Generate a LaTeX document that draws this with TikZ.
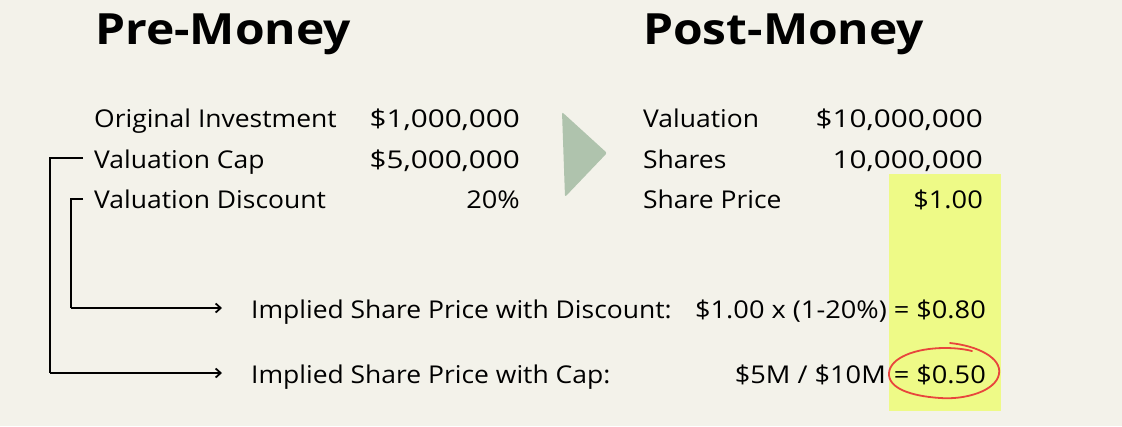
\documentclass[tikz,border=0pt]{standalone}
\usepackage{fontspec}
\setmainfont{Open Sans}
\usetikzlibrary{arrows.meta}
\definecolor{bg}{HTML}{F3F2EA}
\definecolor{hl}{HTML}{EEFA87}
\definecolor{tri}{HTML}{AFC3AD}
\definecolor{redc}{HTML}{E8453C}
\newcommand{\stretchfont}[1]{\addfontfeature{FakeStretch=#1}}
\tikzset{
  title/.style={inner sep=0pt, anchor=base west, font=\fontsize{43}{50}\selectfont\bfseries\stretchfont{1.115}},
  lbl/.style={inner sep=0pt, anchor=base west, font=\fontsize{24.5}{28}\selectfont\stretchfont{1.08}},
  num/.style={inner sep=0pt, anchor=base east, font=\fontsize{24.5}{28}\selectfont\stretchfont{1.11}},
  bignum/.style={num, font=\fontsize{24.5}{28}\selectfont\stretchfont{1.21}},
  conn/.style={line width=2pt, black},
  tip/.style={-{Straight Barb[length=5pt,width=9pt,line width=1.8pt]}},
}
\begin{document}
\begin{tikzpicture}[x=1pt,y=-1pt]
\fill[bg] (0,0) rectangle (1122,426);
\useasboundingbox (0,0) rectangle (1122,426);
% highlight
\fill[hl] (889,174) rectangle (1001,411);
% triangle
\fill[tri, rounded corners=2pt] (562,112) -- (607,153) -- (565,197) -- cycle;
% titles
\node[title] (pre) at (95,44) {Pre-Money};
\node[title] (post) at (643,44) {Post-Money};
% pre-money rows
\node[lbl] (orig) at (94,127) {Original Investment};
\node[lbl] (cap) at (94,168) {Valuation Cap};
\node[lbl] (disc) at (94,208) {Valuation Discount};
\node[bignum] (origv) at (520,127) {\$1,000,000};
\node[bignum] (capv) at (520,168) {\$5,000,000};
\node[num] (discv) at (520,208) {20\%};
% post-money rows
\node[lbl] (val) at (643,127) {Valuation};
\node[lbl] (sh) at (643,168) {Shares};
\node[lbl] (sp) at (643,208) {Share Price};
\node[bignum] (valv) at (983,127) {\$10,000,000};
\node[bignum] (shv) at (983,168) {10,000,000};
\node[num] (spv) at (983,208) {\$1.00};
% implied
\node[lbl] (impd) at (251,318) {Implied Share Price with Discount:};
\node[lbl] (impc) at (251,383) {Implied Share Price with Cap:};
\node[num] (calcd) at (887,318) {\$1.00 x (1-20\%)};
\node[num] (resd) at (986,318) {= \$0.80};
\node[num] (calcc) at (886,383) {\$5M / \$10M};
\node[num] (resc) at (986,383) {= \$0.50};
% connectors
\coordinate (capA) at (83,158);
\coordinate (capC) at (50,373);
\coordinate (capT) at (222,373);
\coordinate (discA) at (83,199);
\coordinate (discC) at (71,308);
\coordinate (discT) at (222,308);
\draw[conn] (capA) -| (capC);
\draw[conn, tip] (capC) -- (capT);
\draw[conn] (discA) -| (discC);
\draw[conn, tip] (discC) -- (discT);
% red hand-drawn ellipse
\draw[redc, line width=1.8pt, line cap=round]
  (950,343) .. controls (978,346) and (1002,358) .. (999,374)
  .. controls (996,391) and (965,400) .. (940,398)
  .. controls (910,396) and (888,388) .. (889,373)
  .. controls (890,358) and (915,348) .. (945,348)
  .. controls (955,348) and (964,349) .. (972,351);
\end{tikzpicture}
\end{document}
